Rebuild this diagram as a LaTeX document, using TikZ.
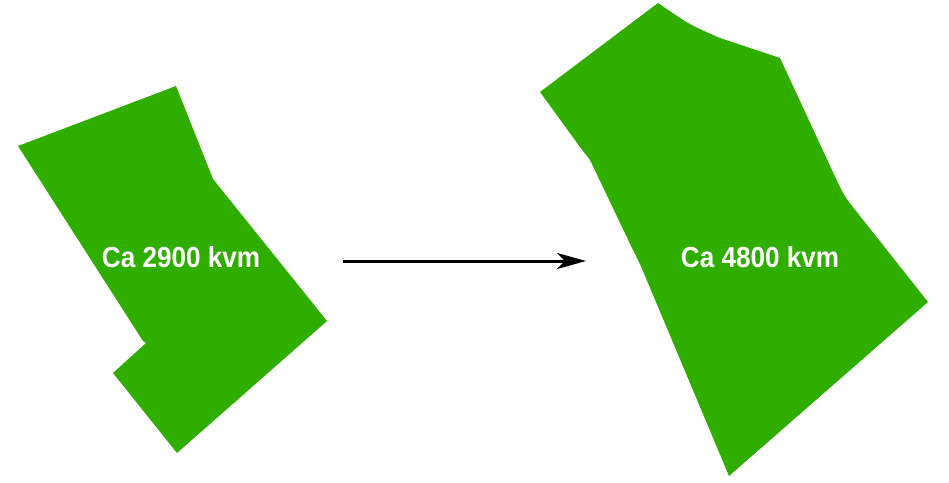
\documentclass[tikz,border=0pt]{standalone}
\usepackage{fontspec}
\setmainfont{Liberation Sans}
\newfontfamily\labelfont[FakeStretch=0.9]{Liberation Sans}
\usetikzlibrary{arrows.meta,positioning}
\definecolor{plotgreen}{RGB}{48,174,0}
\tikzset {
  >=Stealth,
  area/.style={fill=plotgreen},
  arealabel/.style={font=\labelfont\fontsize{29}{29}\selectfont\bfseries, text=white, inner sep=0pt},
}

\begin{document}
\begin{tikzpicture}[x=1pt,y=-1pt]
  \useasboundingbox (0,0) rectangle (949,482);
  % old plot
  \fill[area] (18,146) -- (176,86) -- (213,179) -- (327,321) -- (177,453)
    -- (113,373) -- (146,343) -- (143,341) -- cycle;
  % new plot
  \fill[area] (658,3) .. controls (690,25) .. (720,38) -- (780,58) -- (838,183)
    .. controls (845,197) .. (856,211) -- (928,302) -- (729,476)
    -- (648,283) .. controls (640,264) .. (633,250) -- (590,160)
    .. controls (585,154) .. (580,147) -- (540,92) -- cycle;
  \node[arealabel] (oldarea) at (181,257) {Ca 2900 kvm};
  \node[arealabel] (newarea) at (760,257) {Ca 4800 kvm};
  \coordinate (from) at (343,261);
  \coordinate (to) at (586,261);
  \draw[-{Stealth[length=29pt,width=16pt,inset=8pt]}, line width=3pt] (from) -- (to);
\end{tikzpicture}
\end{document}
